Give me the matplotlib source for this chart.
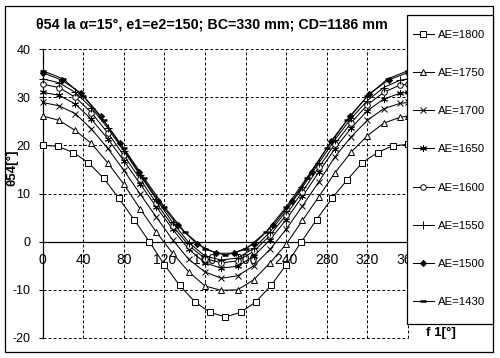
import matplotlib
matplotlib.use("Agg")
import matplotlib.pyplot as plt
from matplotlib.patches import Rectangle

plt.rcParams['font.family'] = ['Liberation Sans', 'DejaVu Sans']

# ---------------- data ----------------
x_1800 = [0, 15, 30, 45, 60, 75, 90, 105, 120, 135, 150, 165, 180, 195, 210, 225, 240, 255, 270, 285, 300, 315, 330, 345, 360]
y_1800 = [20.0, 19.8, 18.5, 16.4, 13.2, 9.0, 4.6, 0.0, -4.8, -9.1, -12.5, -14.7, -15.6, -14.7, -12.5, -9.1, -4.8, 0.0, 4.6, 9.0, 12.8, 16.4, 18.5, 19.9, 20.2]

x_16 = [0, 16, 32, 48, 64, 80, 96, 112, 128, 144, 160, 176, 192, 208, 224, 240, 256, 272, 288, 304, 320, 336, 352, 360]
y_1750 = [26.1, 25.2, 23.1, 20.4, 16.4, 11.9, 6.8, 2.0, -2.4, -6.3, -9.2, -10.1, -10.0, -7.9, -4.4, -0.5, 4.4, 9.3, 14.3, 18.6, 22.0, 24.6, 25.8, 26.1]
y_1700 = [28.9, 28.2, 26.6, 23.4, 19.4, 14.8, 9.9, 5.1, 0.4, -3.7, -6.3, -7.6, -7.1, -5.0, -1.6, 2.6, 7.4, 12.4, 17.6, 21.8, 25.2, 27.6, 28.7, 28.9]
y_1650 = [31.0, 30.4, 28.6, 25.4, 21.4, 16.8, 12.0, 7.2, 2.6, -1.6, -4.4, -5.5, -5.1, -3.0, 0.4, 4.6, 9.4, 14.4, 19.3, 23.6, 27.2, 29.6, 30.8, 31.0]
y_1600 = [32.7, 32.0, 30.0, 26.8, 22.6, 17.9, 13.0, 8.0, 3.3, -0.8, -3.5, -4.4, -4.0, -2.0, 1.3, 5.6, 10.4, 15.4, 20.3, 24.7, 28.4, 31.0, 32.5, 32.7]
y_1550 = [33.8, 33.0, 31.0, 27.8, 23.6, 18.8, 13.8, 8.8, 4.0, -0.2, -3.0, -3.8, -3.4, -1.4, 2.0, 6.4, 11.3, 16.3, 21.2, 25.6, 29.3, 32.0, 33.5, 33.8]

x_1500 = [0, 19, 38, 57, 76, 95, 114, 133, 152, 171, 189, 208, 227, 246, 265, 284, 303, 322, 341, 360]
y_1500 = [35.1, 33.5, 30.8, 26.1, 20.4, 14.4, 8.5, 3.4, -0.5, -2.4, -2.4, -0.5, 3.4, 8.5, 14.5, 20.8, 26.1, 30.7, 33.6, 35.1]

x_1430 = [0, 20, 40, 60, 80, 100, 120, 140, 160, 180, 200, 220, 240, 260, 280, 300, 320, 340, 360]
y_1430 = [35.5, 33.8, 30.2, 25.2, 19.4, 13.2, 7.2, 2.0, -1.6, -2.8, -1.6, 2.0, 7.2, 13.2, 19.4, 25.2, 30.2, 33.8, 35.5]

labels = ["AE=1800", "AE=1750", "AE=1700", "AE=1650", "AE=1600", "AE=1550", "AE=1500", "AE=1430"]
xs = [x_1800, x_16, x_16, x_16, x_16, x_16, x_1500, x_1430]
ys = [y_1800, y_1750, y_1700, y_1650, y_1600, y_1550, y_1500, y_1430]
markers = ['s', '^', 'x', (6, 2, 0), 'o', '+', 'D', '_']
msizes = [4.0, 4.4, 4.4, 5.0, 4.0, 5.2, 3.1, 5.0]
mfaces = ['white', 'white', 'black', 'black', 'white', 'black', 'black', 'black']
medges = [0.7, 0.7, 0.7, 0.7, 0.7, 0.7, 0.7, 1.8]

xticks = [0, 40, 80, 120, 160, 200, 240, 280, 320, 360]
yticks = [-20, -10, 0, 10, 20, 30, 40]

title = "θ54 la α=15°, e1=e2=150; BC=330 mm; CD=1186 mm"
ylabel = "θ54[°]"
xlabel = "f 1[°]"

# ---------------- figure ----------------
W, H = 500, 358
fig = plt.figure(figsize=(W / 100, H / 100), dpi=100)

def fx(px):
    return px / W

def fy(py):
    return 1 - py / H

ax_l, ax_r, ax_t, ax_b = 42.7, 408.0, 49.0, 338.0
ax = fig.add_axes([fx(ax_l), fy(ax_b), fx(ax_r - ax_l), (ax_b - ax_t) / H])
ax.set_facecolor('white')

handles = []
for x, y, m, ms, mf, mw, lab in zip(xs, ys, markers, msizes, mfaces, medges, labels):
    ln, = ax.plot(x, y, color='black', lw=0.75, marker=m, ms=ms,
                  mfc=mf, mec='black', mew=mw, label=lab, clip_on=False, zorder=3)
    handles.append(ln)

ax.set_xlim(0, 360)
ax.set_ylim(-20, 40)
ax.set_xticks(xticks)
ax.set_yticks(yticks)
ax.set_xticklabels([str(v) for v in xticks], fontsize=10.5)
ax.set_yticklabels([str(v) for v in yticks], fontsize=9)

for s in ['top', 'right']:
    ax.spines[s].set_visible(False)
ax.spines['bottom'].set_position(('data', 0))
ax.spines['bottom'].set_linewidth(0.9)
ax.spines['left'].set_linewidth(0.9)
ax.tick_params(axis='x', length=0, pad=8.5)
ax.tick_params(axis='y', length=3, width=0.8, direction='out', pad=6)

ax.grid(True, color='black', linestyle=(0, (3.0, 2.2)), linewidth=0.7)
for gl in ax.get_xgridlines() + ax.get_ygridlines():
    gl.set_clip_on(False)
for gl, v in zip(ax.get_ygridlines(), yticks):
    if v == 0:
        gl.set_visible(False)
for gl, v in zip(ax.get_xgridlines(), xticks):
    if v == 0:
        gl.set_visible(False)
ax.set_axisbelow(True)

# outer frame
fig.patches.append(Rectangle((fx(5), fy(352)), fx(493 - 5), (352 - 6) / H,
                             transform=fig.transFigure, fill=False,
                             edgecolor='black', lw=0.9, zorder=1))

# legend box
fig.patches.append(Rectangle((fx(407), fy(324)), fx(493 - 407), (324 - 15) / H,
                             transform=fig.transFigure, facecolor='white',
                             edgecolor='black', lw=0.9, zorder=10))

leg = fig.legend(handles=handles, labels=labels, loc='center left',
                 bbox_to_anchor=(fx(412.5), fy(168.5)), frameon=False,
                 fontsize=8.2, handlelength=1.9, handletextpad=0.35,
                 labelspacing=2.48, borderpad=0, borderaxespad=0, numpoints=1)
leg.set_zorder(11)

fig.text(fx(211.5), fy(24.5), title, ha='center', va='center',
         fontsize=10.3, fontweight='bold')
fig.text(fx(12.5), fy(168), ylabel, ha='center', va='center', rotation=90,
         fontsize=9.5, fontweight='bold')
fig.text(fx(441), fy(333), xlabel, ha='center', va='center',
         fontsize=9.5, fontweight='bold', zorder=12)

fig.savefig("out.png", dpi=100)
